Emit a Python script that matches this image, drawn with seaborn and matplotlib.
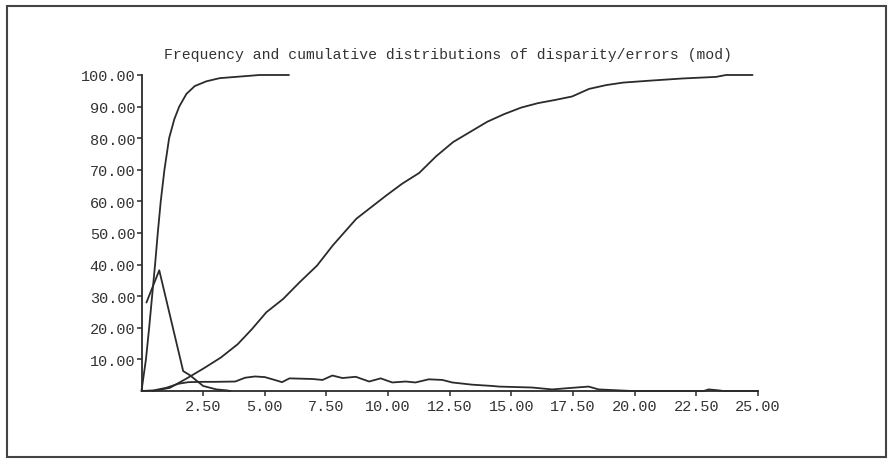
import matplotlib
matplotlib.use("Agg")
import matplotlib.pyplot as plt
from matplotlib.patches import Rectangle
import seaborn as sns
import pandas as pd

# ---- data ----
title = "Frequency and cumulative distributions of disparity/errors (mod)"

# cumulative distribution, small errors (steep)
cum_small_x = [0, 0.18, 0.31, 0.43, 0.55, 0.66, 0.78, 0.93, 1.12, 1.33, 1.53, 1.82, 2.16, 2.63, 3.17, 3.98, 4.79, 5.98]
cum_small_y = [0, 10, 20, 30, 40, 50, 60, 70, 80, 86, 90, 94, 96.5, 98, 99, 99.5, 100, 100]

# frequency distribution, small errors (peaked)
freq_small_x = [0.2, 0.72, 1.69, 1.96, 2.5, 3.04, 3.45, 3.6]
freq_small_y = [28, 38.2, 6.3, 5.0, 1.6, 0.5, 0.2, 0]

# cumulative distribution, large errors (slow)
cum_large_x = [0.46, 1.15, 1.84, 2.53, 3.22, 3.9, 4.48, 5.06, 5.74, 6.41, 7.12, 7.76, 8.71, 9.93,
               10.57, 11.26, 11.95, 12.64, 13.33, 14.02, 14.7, 15.4, 16.08, 16.77, 17.46, 18.15,
               18.84, 19.53, 20.6, 21.94, 23.3, 23.7, 24.78]
cum_large_y = [0, 1, 4.0, 7.2, 10.6, 14.8, 19.6, 24.9, 29.1, 34.4, 39.7, 46.1, 54.5, 61.9,
               65.6, 69.0, 74.3, 78.8, 82.0, 85.2, 87.6, 89.7, 91.1, 92.1, 93.2, 95.6,
               96.8, 97.6, 98.2, 98.9, 99.4, 100, 100]

# frequency distribution, large errors (flat)
freq_large_x = [0, 0.5, 1.0, 1.5, 1.9, 2.5, 3.0, 3.8, 4.2, 4.6, 5.0, 5.4, 5.7, 6.0, 6.93, 7.34,
                7.74, 8.15, 8.69, 9.23, 9.7, 10.17, 10.71, 11.11, 11.65, 12.2, 12.6, 13.41, 14.22,
                14.49, 15.84, 16.65, 17.46, 18.13, 18.54, 19.35, 19.9, 22.8, 23.0, 23.4, 23.6, 25.0]
freq_large_y = [0, 0.2, 1.0, 2.3, 2.8, 2.9, 2.9, 3.0, 4.2, 4.6, 4.4, 3.5, 2.8, 4.0, 3.8, 3.5,
                4.9, 4.1, 4.5, 3.0, 4.0, 2.7, 3.0, 2.7, 3.7, 3.5, 2.7, 2.0, 1.6,
                1.4, 1.1, 0.5, 1.0, 1.4, 0.5, 0.2, 0, 0, 0.5, 0.2, 0, 0]

x_ticks = [2.5, 5.0, 7.5, 10.0, 12.5, 15.0, 17.5, 20.0, 22.5, 25.0]
y_ticks = [10, 20, 30, 40, 50, 60, 70, 80, 90, 100]

# ---- styling ----
sns.set_style("ticks")
plt.rcParams["font.family"] = ["Liberation Mono", "DejaVu Sans Mono"]
ink = "#2b2b2b"

W, H = 888, 460
fig = plt.figure(figsize=(W / 100, H / 100), dpi=100)
fig.patch.set_facecolor("white")

x0, x1, y0, y1 = 141.5, 758.0, 392.0, 76.0
ax = fig.add_axes([x0 / W, 1 - y0 / H, (x1 - x0) / W, (y0 - y1) / H])
ax.set_facecolor("white")

series = [
    ("cum_small", cum_small_x, cum_small_y),
    ("freq_small", freq_small_x, freq_small_y),
    ("cum_large", cum_large_x, cum_large_y),
    ("freq_large", freq_large_x, freq_large_y),
]
for name, xs, ys in series:
    df = pd.DataFrame({"x": xs, "y": ys})
    sns.lineplot(data=df, x="x", y="y", ax=ax, color=ink, lw=1.3,
                 estimator=None, sort=False, legend=False, clip_on=False)

ax.set_xlim(0, 25)
ax.set_ylim(0, 100)
ax.set_xticks(x_ticks)
ax.set_xticklabels([f"{v:.2f}" for v in x_ticks])
ax.set_yticks(y_ticks)
ax.set_yticklabels([f"{v:.2f}" for v in y_ticks])
ax.set_xlabel("")
ax.set_ylabel("")
for s in ["top", "right"]:
    ax.spines[s].set_visible(False)
for s in ["left", "bottom"]:
    ax.spines[s].set_color(ink)
    ax.spines[s].set_linewidth(1.3)
ax.tick_params(axis="both", direction="out", length=3.5, width=1.1, color=ink,
               labelsize=11, labelcolor="#333333")
ax.tick_params(axis="y", pad=1)
ax.tick_params(axis="x", pad=2)

fig.text(448 / W, 1 - 55 / H, title, ha="center", va="center", fontsize=10.6, color="#333333")

fig.add_artist(Rectangle((7 / W, 2 / H), (886 - 7) / W, (453 - 2) / H,
                         transform=fig.transFigure, fill=False, ec="#444444", lw=1.5))

fig.savefig("out.png", dpi=100, facecolor="white")
